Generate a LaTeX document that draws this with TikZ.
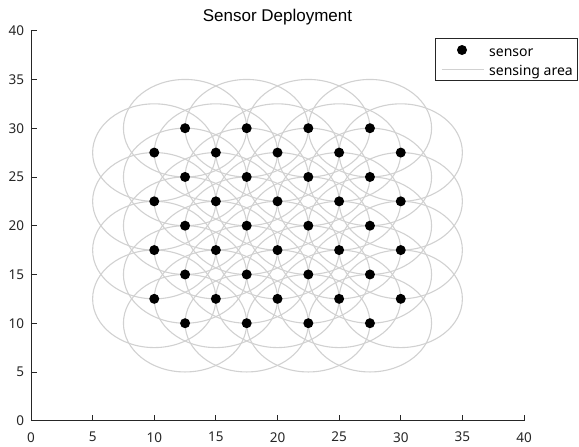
\documentclass[tikz,border=0pt]{standalone}
\usepackage{fontspec}
\setmainfont{Noto Sans}
\newfontfamily\titlefont{Liberation Sans}
\usetikzlibrary{backgrounds}
\definecolor{axisgray}{rgb}{0.15,0.15,0.15}
\definecolor{areagray}{rgb}{0.82,0.82,0.82}

\begin{document}
\begin{tikzpicture}[x=12.325pt,y=9.75pt,
    sensor/.style={circle,fill=black,inner sep=0pt,minimum size=10pt},
    area/.style={draw=areagray,line width=1.1pt},
    tick label/.style={inner sep=0pt,text=axisgray,font=\fontsize{13.5}{15}\selectfont},
    key label/.style={anchor=base west,inner sep=0pt,font=\fontsize{14}{16}\selectfont}]
    \useasboundingbox (-2.515,-2.595) rectangle (44.462,43.149);

    % sensors
    \node[sensor] (1) at (12.5,10) {};
    \node[sensor] (2) at (17.5,10) {};
    \node[sensor] (3) at (22.5,10) {};
    \node[sensor] (4) at (27.5,10) {};
    \node[sensor] (5) at (10,12.5) {};
    \node[sensor] (6) at (15,12.5) {};
    \node[sensor] (7) at (20,12.5) {};
    \node[sensor] (8) at (25,12.5) {};
    \node[sensor] (9) at (30,12.5) {};
    \node[sensor] (10) at (12.5,15) {};
    \node[sensor] (11) at (17.5,15) {};
    \node[sensor] (12) at (22.5,15) {};
    \node[sensor] (13) at (27.5,15) {};
    \node[sensor] (14) at (10,17.5) {};
    \node[sensor] (15) at (15,17.5) {};
    \node[sensor] (16) at (20,17.5) {};
    \node[sensor] (17) at (25,17.5) {};
    \node[sensor] (18) at (30,17.5) {};
    \node[sensor] (19) at (12.5,20) {};
    \node[sensor] (20) at (17.5,20) {};
    \node[sensor] (21) at (22.5,20) {};
    \node[sensor] (22) at (27.5,20) {};
    \node[sensor] (23) at (10,22.5) {};
    \node[sensor] (24) at (15,22.5) {};
    \node[sensor] (25) at (20,22.5) {};
    \node[sensor] (26) at (25,22.5) {};
    \node[sensor] (27) at (30,22.5) {};
    \node[sensor] (28) at (12.5,25) {};
    \node[sensor] (29) at (17.5,25) {};
    \node[sensor] (30) at (22.5,25) {};
    \node[sensor] (31) at (27.5,25) {};
    \node[sensor] (32) at (10,27.5) {};
    \node[sensor] (33) at (15,27.5) {};
    \node[sensor] (34) at (20,27.5) {};
    \node[sensor] (35) at (25,27.5) {};
    \node[sensor] (36) at (30,27.5) {};
    \node[sensor] (37) at (12.5,30) {};
    \node[sensor] (38) at (17.5,30) {};
    \node[sensor] (39) at (22.5,30) {};
    \node[sensor] (40) at (27.5,30) {};

    % sensing areas behind the sensors
    \begin{scope}[on background layer]
        \foreach \s in {1,...,40}
            \draw[area] (\s.center) circle[radius=5];
    \end{scope}

    % axes
    \draw[axisgray,line width=0.9pt] (0,40) -- (0,0) -- (40,0);
    \foreach \v in {0,5,...,40} {
        \draw[axisgray,line width=0.9pt] (\v,0) -- ++(0,6pt);
        \draw[axisgray,line width=0.9pt] (0,\v) -- ++(6pt,0);
        \node[tick label,anchor=north] at (\v,-1.16) {\v};
        \node[tick label,anchor=east] at (-0.54,\v) {\v};
    }

    \node[anchor=base,font=\titlefont\fontsize{17}{19}\selectfont] (title) at (20,40.92) {Sensor Deployment};

    % legend
    \draw[axisgray,line width=0.7pt,fill=white] (32.78,34.87) rectangle (44.30,39.22);
    \node[sensor] (key dot) at (34.97,38.02) {};
    \coordinate (key a) at (33.32,36.04);
    \coordinate (key b) at (36.75,36.04);
    \draw[area] (key a) -- (key b);
    \node[key label] (key sensor) at (37.16,37.33) {sensor};
    \node[key label] (key area) at (37.16,35.38) {sensing area};
\end{tikzpicture}
\end{document}
